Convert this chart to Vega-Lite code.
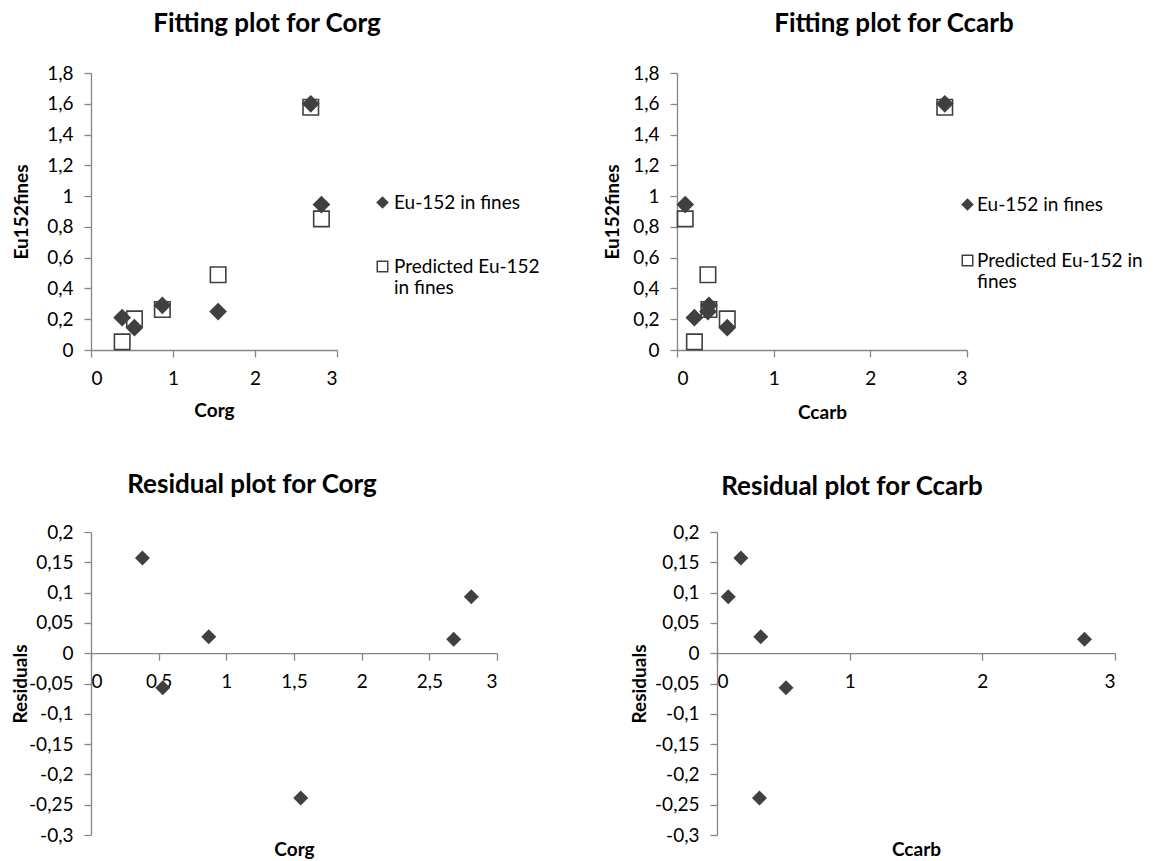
{
  "$schema": "https://vega.github.io/schema/vega-lite/v6.json",
  "autosize": {"type": "none"},
  "padding": {"left": 91, "top": 73, "right": 1062, "bottom": 788},
  "background": "white",
  "bounds": "flush",
  "spacing": 459,
  "config": {
    "locale": {"number": {"decimal": ",", "thousands": ".", "grouping": [3], "currency": ["", " €"], "minus": "-"}},
    "font": "Lato",
    "view": {"stroke": null},
    "axis": {"grid": false, "domainColor": "#868686", "tickColor": "#868686", "domainWidth": 1.3, "tickWidth": 1.3, "tickSize": 7,
      "labelFont": "Lato", "labelFontSize": 19, "labelColor": "#000000",
      "titleFont": "Lato", "titleFontSize": 19, "titleFontWeight": "bold", "titleColor": "#000000"},
    "title": {"font": "Lato", "fontSize": 26, "fontWeight": "bold", "color": "#000000", "anchor": "middle", "frame": "group", "baseline": "alphabetic"},
    "legend": {"labelFont": "Lato", "labelFontSize": 19, "labelColor": "#000000", "labelLimit": 400}
  },
  "datasets": {
    "fit": [
      {"Corg": 0.38, "Ccarb": 0.18, "series": "Predicted Eu-152 in fines", "Eu152fines": 0.053},
      {"Corg": 0.53, "Ccarb": 0.52, "series": "Predicted Eu-152 in fines", "Eu152fines": 0.202},
      {"Corg": 0.87, "Ccarb": 0.33, "series": "Predicted Eu-152 in fines", "Eu152fines": 0.263},
      {"Corg": 1.55, "Ccarb": 0.32, "series": "Predicted Eu-152 in fines", "Eu152fines": 0.489},
      {"Corg": 2.68, "Ccarb": 2.77, "series": "Predicted Eu-152 in fines", "Eu152fines": 1.577},
      {"Corg": 2.81, "Ccarb": 0.085, "series": "Predicted Eu-152 in fines", "Eu152fines": 0.852},
      {"Corg": 0.38, "Ccarb": 0.18, "series": "Eu-152 in fines", "Eu152fines": 0.21},
      {"Corg": 0.53, "Ccarb": 0.52, "series": "Eu-152 in fines", "Eu152fines": 0.145},
      {"Corg": 0.87, "Ccarb": 0.33, "series": "Eu-152 in fines", "Eu152fines": 0.29},
      {"Corg": 1.55, "Ccarb": 0.32, "series": "Eu-152 in fines", "Eu152fines": 0.25},
      {"Corg": 2.68, "Ccarb": 2.77, "series": "Eu-152 in fines", "Eu152fines": 1.6},
      {"Corg": 2.81, "Ccarb": 0.085, "series": "Eu-152 in fines", "Eu152fines": 0.945}
    ],
    "resid": [
      {"Corg": 0.38, "Ccarb": 0.18, "Residuals": 0.157},
      {"Corg": 0.53, "Ccarb": 0.52, "Residuals": -0.057},
      {"Corg": 0.87, "Ccarb": 0.33, "Residuals": 0.027},
      {"Corg": 1.55, "Ccarb": 0.32, "Residuals": -0.239},
      {"Corg": 2.68, "Ccarb": 2.77, "Residuals": 0.023},
      {"Corg": 2.81, "Ccarb": 0.085, "Residuals": 0.093}
    ]
  },
  "vconcat": [
    {
      "bounds": "flush",
      "spacing": 340,
      "resolve": {"scale": {"shape": "independent", "fill": "independent", "stroke": "independent"}, "legend": {"shape": "independent", "fill": "independent", "stroke": "independent"}},
      "hconcat": [
        {
          "width": 246, "height": 277,
          "title": {"text": "Fitting plot for Corg", "dx": 53, "offset": 27},
          "data": {"name": "fit"},
          "mark": {"type": "point", "size": 240, "strokeWidth": 1.6, "opacity": 1},
          "encoding": {
            "x": {"field": "Corg", "type": "quantitative", "scale": {"domain": [0, 3], "nice": false, "zero": false},
              "axis": {"values": [0, 1, 2, 3], "format": "d", "labelPadding": 12, "title": "Corg", "titleY": 60, "titleBaseline": "middle"}},
            "y": {"field": "Eu152fines", "type": "quantitative", "scale": {"domain": [0, 1.8], "nice": false},
              "axis": {"values": [0, 0.2, 0.4, 0.6, 0.8, 1, 1.2, 1.4, 1.6, 1.8], "format": ".1~f", "labelPadding": 11, "title": "Eu152fines", "titleX": -70, "titleBaseline": "middle"}},
            "shape": {"field": "series", "type": "nominal", "scale": {"domain": ["Eu-152 in fines", "Predicted Eu-152 in fines"], "range": ["diamond", "square"]},
              "legend": {"orient": "none", "legendX": 282, "legendY": 120, "title": null, "rowPadding": 44, "labelOffset": 2, "symbolSize": 110, "symbolStrokeWidth": 1.5, "labelBaseline": "middle",
                "labelExpr": "datum.label == 'Predicted Eu-152 in fines' ? ['Predicted Eu-152', 'in fines'] : datum.label"}},
            "fill": {"field": "series", "type": "nominal", "scale": {"domain": ["Eu-152 in fines", "Predicted Eu-152 in fines"], "range": ["#404040", "transparent"]},
              "legend": {"orient": "none", "legendX": 282, "legendY": 120, "title": null, "rowPadding": 44, "labelOffset": 2, "symbolSize": 110, "symbolStrokeWidth": 1.5, "labelBaseline": "middle",
                "labelExpr": "datum.label == 'Predicted Eu-152 in fines' ? ['Predicted Eu-152', 'in fines'] : datum.label"}},
            "stroke": {"field": "series", "type": "nominal", "scale": {"domain": ["Eu-152 in fines", "Predicted Eu-152 in fines"], "range": ["#404040", "#404040"]},
              "legend": {"orient": "none", "legendX": 282, "legendY": 120, "title": null, "rowPadding": 44, "labelOffset": 2, "symbolSize": 110, "symbolStrokeWidth": 1.5, "labelBaseline": "middle",
                "labelExpr": "datum.label == 'Predicted Eu-152 in fines' ? ['Predicted Eu-152', 'in fines'] : datum.label"}}
          }
        },
        {
          "width": 290, "height": 277,
          "title": {"text": "Fitting plot for Ccarb", "dx": 72, "offset": 27},
          "data": {"name": "fit"},
          "mark": {"type": "point", "size": 240, "strokeWidth": 1.6, "opacity": 1},
          "encoding": {
            "x": {"field": "Ccarb", "type": "quantitative", "scale": {"domain": [0, 3], "nice": false, "zero": false},
              "axis": {"values": [0, 1, 2, 3], "format": "d", "labelPadding": 12, "title": "Ccarb", "titleY": 62, "titleBaseline": "middle"}},
            "y": {"field": "Eu152fines", "type": "quantitative", "scale": {"domain": [0, 1.8], "nice": false},
              "axis": {"values": [0, 0.2, 0.4, 0.6, 0.8, 1, 1.2, 1.4, 1.6, 1.8], "format": ".1~f", "labelPadding": 11, "title": "Eu152fines", "titleX": -65, "titleBaseline": "middle"}},
            "shape": {"field": "series", "type": "nominal", "scale": {"domain": ["Eu-152 in fines", "Predicted Eu-152 in fines"], "range": ["diamond", "square"]},
              "legend": {"orient": "none", "legendX": 281, "legendY": 122, "title": null, "rowPadding": 36, "labelOffset": 0, "symbolSize": 110, "symbolStrokeWidth": 1.5, "labelBaseline": "middle",
                "labelExpr": "datum.label == 'Predicted Eu-152 in fines' ? ['Predicted Eu-152 in', 'fines'] : datum.label"}},
            "fill": {"field": "series", "type": "nominal", "scale": {"domain": ["Eu-152 in fines", "Predicted Eu-152 in fines"], "range": ["#404040", "transparent"]},
              "legend": {"orient": "none", "legendX": 281, "legendY": 122, "title": null, "rowPadding": 36, "labelOffset": 0, "symbolSize": 110, "symbolStrokeWidth": 1.5, "labelBaseline": "middle",
                "labelExpr": "datum.label == 'Predicted Eu-152 in fines' ? ['Predicted Eu-152 in', 'fines'] : datum.label"}},
            "stroke": {"field": "series", "type": "nominal", "scale": {"domain": ["Eu-152 in fines", "Predicted Eu-152 in fines"], "range": ["#404040", "#404040"]},
              "legend": {"orient": "none", "legendX": 281, "legendY": 122, "title": null, "rowPadding": 36, "labelOffset": 0, "symbolSize": 110, "symbolStrokeWidth": 1.5, "labelBaseline": "middle",
                "labelExpr": "datum.label == 'Predicted Eu-152 in fines' ? ['Predicted Eu-152 in', 'fines'] : datum.label"}}
          }
        }
      ]
    },
    {
      "bounds": "flush",
      "spacing": 220,
      "hconcat": [
        {
          "width": 406, "height": 303,
          "title": {"text": "Residual plot for Corg", "dx": -42, "offset": 25},
          "data": {"name": "resid"},
          "mark": {"type": "point", "shape": "diamond", "filled": true, "size": 225, "color": "#404040", "opacity": 1},
          "encoding": {
            "x": {"field": "Corg", "type": "quantitative", "scale": {"domain": [0, 3], "nice": false, "zero": false},
              "axis": {"values": [0, 0.5, 1, 1.5, 2, 2.5, 3], "format": ".1~f", "offset": -181.8, "labelPadding": 12, "title": "Corg", "titleY": 196, "titleBaseline": "middle"}},
            "y": {"field": "Residuals", "type": "quantitative", "scale": {"domain": [-0.3, 0.2], "nice": false, "zero": false},
              "axis": {"values": [-0.3, -0.25, -0.2, -0.15, -0.1, -0.05, 0, 0.05, 0.1, 0.15, 0.2], "format": ".2~f", "labelPadding": 11, "title": "Residuals", "titleX": -71, "titleBaseline": "middle"}}
          }
        },
        {
          "width": 398, "height": 303,
          "title": {"text": "Residual plot for Ccarb", "dx": -64, "offset": 23},
          "data": {"name": "resid"},
          "mark": {"type": "point", "shape": "diamond", "filled": true, "size": 225, "color": "#404040", "opacity": 1},
          "encoding": {
            "x": {"field": "Ccarb", "type": "quantitative", "scale": {"domain": [0, 3], "nice": false, "zero": false},
              "axis": {"values": [0, 1, 2, 3], "format": "d", "offset": -181.8, "labelPadding": 12, "title": "Ccarb", "titleY": 196, "titleBaseline": "middle"}},
            "y": {"field": "Residuals", "type": "quantitative", "scale": {"domain": [-0.3, 0.2], "nice": false, "zero": false},
              "axis": {"values": [-0.3, -0.25, -0.2, -0.15, -0.1, -0.05, 0, 0.05, 0.1, 0.15, 0.2], "format": ".2~f", "labelPadding": 11, "title": "Residuals", "titleX": -78, "titleBaseline": "middle"}}
          }
        }
      ]
    }
  ]
}
